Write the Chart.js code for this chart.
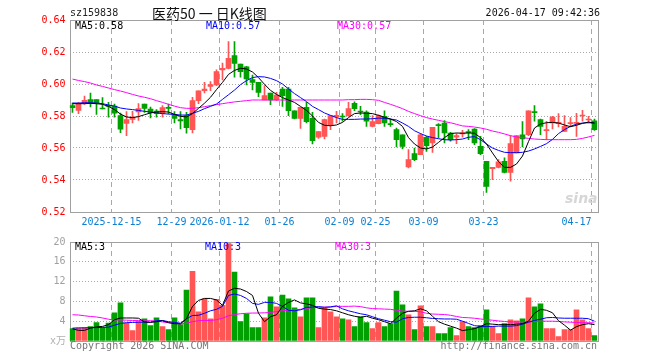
<!DOCTYPE html>
<html lang="zh-CN">
<head>
<meta charset="UTF-8">
<title>医药50 日K线图</title>
<script src="https://cdn.jsdelivr.net/npm/chart.js@4"></script>
<style>
  body { margin: 0; background: #fff; }
  #wrap { position: relative; width: 660px; height: 360px; overflow: hidden;
          font-family: "DejaVu Sans Mono", monospace; font-size: 10px; }
  canvas { position: absolute; left: 0; }
  .t { position: absolute; white-space: nowrap; line-height: 12px; }
</style>
</head>
<body>
<div id="wrap">
  <canvas id="kChart" width="660" height="232" style="top:0"></canvas>
  <canvas id="volChart" width="660" height="128" style="top:232px"></canvas>

  <div class="t" style="left:70px;top:7px;color:#222">sz159838</div>
  <div class="t" style="left:152px;top:5px;font-family:'Noto Sans CJK SC';font-size:14px;line-height:16px;color:#111">医药50 一 日K线图</div>
  <div class="t" style="right:60px;top:7px;color:#111">2026-04-17 09:42:36</div>

  <div class="t" style="left:75px;top:20px;color:#000">MA5:0.58</div>
  <div class="t" style="left:206px;top:20px;color:#0000ff">MA10:0.57</div>
  <div class="t" style="left:337px;top:20px;color:#ff00ff">MA30:0.57</div>
  <div class="t" style="left:565px;top:190px;color:#d6d6d6;font:italic bold 14px 'DejaVu Sans';line-height:16px">sina</div>

  <div class="t" style="left:75px;top:241px;color:#000">MA5:3</div>
  <div class="t" style="left:205px;top:241px;color:#0000ff">MA10:3</div>
  <div class="t" style="left:335px;top:241px;color:#ff00ff">MA30:3</div>

  <div class="t" style="left:50px;top:335px;color:#b0b0b0">x万</div>
  <div class="t" style="left:70px;top:340px;color:#777">Copyright 2026 SINA.COM</div>
  <div class="t" style="right:63px;top:340px;color:#777">http://finance.sina.com.cn</div>
</div>

<script>
// trading days
const dates = [
  '2025-12-04','2025-12-05','2025-12-08','2025-12-09','2025-12-10','2025-12-11','2025-12-12',
  '2025-12-15','2025-12-16','2025-12-17','2025-12-18','2025-12-19','2025-12-22','2025-12-23','2025-12-24','2025-12-25','2025-12-26',
  '2025-12-29','2025-12-30','2025-12-31','2026-01-05','2026-01-06','2026-01-07','2026-01-08','2026-01-09',
  '2026-01-12','2026-01-13','2026-01-14','2026-01-15','2026-01-16','2026-01-19','2026-01-20','2026-01-21','2026-01-22','2026-01-23',
  '2026-01-26','2026-01-27','2026-01-28','2026-01-29','2026-01-30','2026-02-02','2026-02-03','2026-02-04','2026-02-05','2026-02-06',
  '2026-02-09','2026-02-10','2026-02-11','2026-02-12','2026-02-13','2026-02-24',
  '2026-02-25','2026-02-26','2026-02-27','2026-03-02','2026-03-03','2026-03-04','2026-03-05','2026-03-06',
  '2026-03-09','2026-03-10','2026-03-11','2026-03-12','2026-03-13','2026-03-16','2026-03-17','2026-03-18','2026-03-19','2026-03-20',
  '2026-03-23','2026-03-24','2026-03-25','2026-03-26','2026-03-27','2026-03-30','2026-03-31','2026-04-01','2026-04-02','2026-04-03',
  '2026-04-07','2026-04-08','2026-04-09','2026-04-10','2026-04-13','2026-04-14','2026-04-15','2026-04-16','2026-04-17'
];

const tickDates  = ['2025-12-15','2025-12-29','2026-01-12','2026-01-26','2026-02-09','2026-02-25','2026-03-09','2026-03-23','2026-04-17'];
const tickLabels = ['2025-12-15','12-29','2026-01-12','01-26','02-09','02-25','03-09','03-23','04-17'];
const priceTicks = [0.52, 0.54, 0.56, 0.58, 0.60, 0.62, 0.64];
const volTicks   = [0, 4, 8, 12, 16, 20];

const openP = [
  0.5865,0.5835,0.5881,0.5902,0.5902,0.5846,0.5867,0.5862,0.5802,0.5754,
  0.5779,0.5825,0.5875,0.5844,0.5831,0.5815,0.5852,0.5808,0.5777,0.5802,
  0.5715,0.5896,0.5958,0.5985,0.5994,0.6088,0.6098,0.6177,0.6125,0.6108,
  0.6027,0.6010,0.5900,0.5944,0.5900,0.5969,0.5969,0.5833,0.5785,0.5854,
  0.5785,0.5667,0.5673,0.5746,0.5794,0.5798,0.5802,0.5879,0.5829,0.5825,
  0.5735,0.5752,0.5798,0.5752,0.5715,0.5683,0.5481,0.5565,0.5558,0.5667,
  0.5631,0.5746,0.5756,0.5694,0.5667,0.5688,0.5700,0.5719,0.5610,0.5517,
  0.5471,0.5479,0.5517,0.5448,0.5569,0.5683,0.5683,0.5825,0.5777,0.5708,
  0.5756,0.5752,0.5704,0.5752,0.5754,0.5800,0.5775,0.5770
];
const highP = [
  0.5881,0.5885,0.5925,0.5944,0.5902,0.5915,0.5885,0.5875,0.5819,0.5827,
  0.5829,0.5877,0.5875,0.5856,0.5840,0.5865,0.5875,0.5827,0.5827,0.5823,
  0.5917,0.5958,0.6010,0.6015,0.6088,0.6131,0.6265,0.6265,0.6125,0.6110,
  0.6056,0.6010,0.5990,0.5944,0.5948,0.5979,0.5979,0.5833,0.5854,0.5885,
  0.5823,0.5702,0.5781,0.5802,0.5829,0.5815,0.5885,0.5888,0.5860,0.5833,
  0.5802,0.5808,0.5833,0.5781,0.5725,0.5683,0.5590,0.5600,0.5690,0.5673,
  0.5729,0.5752,0.5771,0.5698,0.5690,0.5710,0.5715,0.5721,0.5673,0.5517,
  0.5479,0.5527,0.5538,0.5677,0.5677,0.5765,0.5833,0.5865,0.5781,0.5767,
  0.5798,0.5815,0.5802,0.5790,0.5817,0.5835,0.5798,0.5781
];
const lowP = [
  0.5823,0.5815,0.5873,0.5856,0.5810,0.5844,0.5792,0.5792,0.5696,0.5677,
  0.5756,0.5773,0.5823,0.5788,0.5792,0.5792,0.5813,0.5756,0.5719,0.5692,
  0.5694,0.5877,0.5944,0.5958,0.5990,0.6025,0.6094,0.6042,0.6042,0.5994,
  0.5963,0.5921,0.5900,0.5871,0.5896,0.5860,0.5802,0.5781,0.5723,0.5756,
  0.5625,0.5660,0.5656,0.5715,0.5756,0.5767,0.5798,0.5833,0.5808,0.5735,
  0.5731,0.5750,0.5735,0.5735,0.5606,0.5594,0.5475,0.5521,0.5558,0.5579,
  0.5573,0.5663,0.5631,0.5642,0.5627,0.5667,0.5652,0.5621,0.5558,0.5323,
  0.5402,0.5475,0.5444,0.5392,0.5569,0.5606,0.5677,0.5767,0.5683,0.5652,
  0.5719,0.5731,0.5704,0.5733,0.5673,0.5767,0.5756,0.5710
];
const closeP = [
  0.5852,0.5877,0.5898,0.5885,0.5881,0.5844,0.5860,0.5817,0.5717,0.5777,
  0.5794,0.5846,0.5848,0.5821,0.5815,0.5852,0.5848,0.5785,0.5769,0.5727,
  0.5896,0.5958,0.5969,0.5996,0.6077,0.6098,0.6160,0.6129,0.6077,0.6031,
  0.6010,0.5948,0.5927,0.5900,0.5931,0.5927,0.5833,0.5785,0.5854,0.5765,
  0.5646,0.5702,0.5777,0.5802,0.5804,0.5794,0.5846,0.5846,0.5825,0.5767,
  0.5765,0.5802,0.5756,0.5746,0.5652,0.5610,0.5527,0.5527,0.5683,0.5615,
  0.5729,0.5740,0.5694,0.5652,0.5677,0.5694,0.5696,0.5631,0.5565,0.5360,
  0.5479,0.5513,0.5448,0.5627,0.5677,0.5656,0.5833,0.5821,0.5735,0.5715,
  0.5794,0.5760,0.5735,0.5758,0.5760,0.5802,0.5777,0.5714
];

const ma5 = [
  0.5877,0.5877,0.5877,0.5879,0.5877,0.5873,0.5860,0.5840,0.5812,0.5794,
  0.5790,0.5796,0.5808,0.5819,0.5825,0.5827,0.5825,0.5810,0.5798,0.5794,
  0.5815,0.5848,0.5880,0.5917,0.5965,0.6010,0.6060,0.6085,0.6098,0.6094,
  0.6075,0.6040,0.5998,0.5960,0.5935,0.5915,0.5900,0.5885,0.5860,0.5835,
  0.5800,0.5760,0.5742,0.5739,0.5744,0.5760,0.5790,0.5815,0.5819,0.5817,
  0.5815,0.5804,0.5792,0.5781,0.5765,0.5735,0.5665,0.5625,0.5600,0.5594,
  0.5606,0.5635,0.5665,0.5690,0.5694,0.5692,0.5694,0.5692,0.5665,0.5625,
  0.5569,0.5515,0.5479,0.5479,0.5500,0.5550,0.5640,0.5725,0.5750,0.5758,
  0.5760,0.5756,0.5744,0.5733,0.5742,0.5754,0.5762,0.5756
];
const ma10 = [
  0.5881,0.5881,0.5883,0.5883,0.5881,0.5877,0.5869,0.5862,0.5850,0.5844,
  0.5840,0.5835,0.5829,0.5825,0.5819,0.5815,0.5812,0.5810,0.5806,0.5806,
  0.5817,0.5829,0.5846,0.5860,0.5875,0.5904,0.5933,0.5962,0.5996,0.6021,
  0.6040,0.6046,0.6044,0.6035,0.6021,0.6000,0.5969,0.5940,0.5915,0.5890,
  0.5860,0.5840,0.5819,0.5804,0.5790,0.5779,0.5779,0.5779,0.5781,0.5781,
  0.5783,0.5787,0.5785,0.5781,0.5775,0.5756,0.5735,0.5708,0.5690,0.5675,
  0.5665,0.5658,0.5652,0.5650,0.5652,0.5656,0.5667,0.5671,0.5652,0.5625,
  0.5600,0.5585,0.5573,0.5571,0.5571,0.5573,0.5581,0.5594,0.5610,0.5627,
  0.5654,0.5690,0.5715,0.5735,0.5750,0.5756,0.5758,0.5756
];
const ma30 = [
  0.6031,0.6022,0.6015,0.6006,0.5994,0.5985,0.5975,0.5965,0.5956,0.5946,
  0.5935,0.5925,0.5917,0.5908,0.5896,0.5885,0.5873,0.5862,0.5852,0.5848,
  0.5848,0.5852,0.5858,0.5865,0.5871,0.5877,0.5883,0.5888,0.5892,0.5896,
  0.5900,0.5900,0.5900,0.5900,0.5900,0.5900,0.5900,0.5900,0.5900,0.5900,
  0.5900,0.5900,0.5900,0.5900,0.5900,0.5900,0.5902,0.5902,0.5904,0.5904,
  0.5902,0.5898,0.5885,0.5873,0.5860,0.5846,0.5829,0.5815,0.5802,0.5790,
  0.5781,0.5773,0.5765,0.5758,0.5748,0.5738,0.5735,0.5731,0.5725,0.5717,
  0.5706,0.5698,0.5688,0.5677,0.5669,0.5665,0.5660,0.5656,0.5654,0.5652,
  0.5652,0.5652,0.5652,0.5652,0.5654,0.5660,0.5669,0.5679
];

const volume = [
  2.5,2.6,2.7,2.9,3.7,2.7,3.6,5.7,7.7,3.6,
  2.1,3.9,4.5,3.1,4.7,2.9,2.3,4.7,3.3,10.3,
  14.1,5.9,8.5,4.5,8.4,7.2,19.7,13.9,3.9,5.5,
  2.7,2.7,4.7,8.9,6.9,9.3,8.5,6.7,4.9,8.7,
  8.7,2.7,6.6,5.9,4.9,4.5,4.3,2.9,4.9,3.7,
  2.5,3.7,2.9,3.5,10.1,7.3,5.3,2.3,7.1,2.9,
  2.9,1.5,1.5,2.7,1.1,3.9,2.9,2.7,3.1,6.3,
  2.9,1.5,3.5,4.3,4.1,4.5,8.7,6.9,7.5,2.5,
  2.5,0.9,2.3,2.3,6.3,4.3,2.5,1.1
];
const vma5 = [
  2.45,2.15,2.15,2.6,2.85,2.95,3.3,4.3,4.65,4.65,
  4.65,4.6,3.85,3.75,3.9,4.1,3.7,3.5,3.45,4.5,
  7.0,8.2,8.6,8.6,8.3,7.2,10.1,10.65,10.5,10.0,
  9.2,5.6,3.9,4.9,5.3,7.0,7.8,8.3,7.7,7.5,
  7.2,6.6,6.45,6.35,6.1,5.7,5.3,5.0,4.8,5.0,
  4.6,4.3,3.9,3.5,4.6,5.6,6.0,6.1,6.5,6.1,
  5.0,3.9,3.4,3.0,2.6,2.1,2.3,2.5,2.9,3.5,
  3.4,3.3,3.3,3.3,3.4,3.5,4.0,5.6,6.4,6.2,
  5.7,4.1,3.2,2.2,2.9,3.3,3.5,3.3
];
const vma10 = [
  2.6,2.65,2.65,2.7,2.7,2.75,2.8,3.2,3.55,3.7,
  3.75,3.8,3.8,3.8,4.1,4.15,3.9,3.75,3.6,4.5,
  5.15,5.2,5.6,6.1,6.4,7.0,9.2,9.5,9.2,8.6,
  7.6,7.4,7.8,7.8,7.6,7.0,6.2,6.1,6.3,6.8,
  6.85,6.95,6.8,6.9,7.1,6.5,6.1,5.8,5.5,5.3,
  4.9,4.5,4.2,3.9,3.8,4.5,4.75,4.8,4.8,4.7,
  4.55,4.5,4.45,4.45,4.4,4.0,3.55,3.1,2.95,2.95,
  2.95,3.0,3.0,3.0,3.1,3.4,3.8,4.15,4.4,4.7,
  4.75,4.65,4.6,4.6,4.6,4.6,4.5,4.0
];
const vma30 = [
  5.3,5.25,5.1,4.95,4.85,4.65,4.4,4.25,4.25,4.2,
  4.15,4.15,4.1,4.1,4.05,3.85,3.7,3.6,3.45,3.6,
  3.9,4.1,4.15,4.15,4.3,4.6,5.1,5.35,5.5,5.6,
  5.65,5.65,5.7,5.75,5.95,6.15,6.2,6.3,6.4,6.55,
  6.75,6.8,6.85,6.85,7.0,7.0,7.0,7.05,6.95,6.7,
  6.55,6.5,6.45,6.4,6.2,6.05,6.0,6.0,5.9,5.6,
  5.45,5.4,5.35,5.2,4.95,4.75,4.7,4.6,4.45,4.3,
  4.2,4.05,3.95,3.85,3.85,3.85,3.85,3.95,4.0,4.0,
  4.0,3.95,3.85,3.8,3.75,3.7,3.7,3.65
];

const RED = '#ff5555';
const GREEN = '#00a000';
const MONO = 'DejaVu Sans Mono';

const upColors = openP.map((o, i) => closeP[i] >= o ? RED : GREEN);
const tickIdx = tickDates.map(d => dates.indexOf(d));

// plot frame
const frame = {
  id: 'frame',
  beforeDatasetsDraw(chart) {
    const { ctx, chartArea: a } = chart;
    ctx.save();
    ctx.strokeStyle = '#a0a0a0';
    ctx.lineWidth = 1;
    ctx.strokeRect(Math.round(a.left) + 0.5, Math.round(a.top) + 0.5,
                   Math.round(a.right - a.left), Math.round(a.bottom - a.top));
    ctx.restore();
  }
};

function lineSet(data, color) {
  return { type: 'line', data: data, borderColor: color, borderWidth: 1,
           pointRadius: 0, fill: false, tension: 0, order: 0 };
}

function xScale(showLabels, height) {
  return {
    type: 'category',
    offset: true,
    grid: {
      offset: true,
      drawTicks: false,
      lineWidth: 1,
      color: c => tickIdx.includes(c.index) ? '#a8a8a8' : 'rgba(0,0,0,0)'
    },
    border: { display: false, dash: [5, 4] },
    ticks: {
      display: showLabels,
      autoSkip: false,
      maxRotation: 0,
      minRotation: 0,
      align: 'inner',
      labelOffset: -3,
      padding: 4,
      color: '#0b7fd4',
      font: { family: MONO, size: 10 },
      callback: (v, i) => {
        const k = tickIdx.indexOf(i);
        return k >= 0 ? tickLabels[k] : '';
      }
    },
    afterFit: s => { s.height = height; }
  };
}

new Chart(document.getElementById('kChart'), {
  type: 'bar',
  data: {
    labels: dates,
    datasets: [
      lineSet(ma5, '#000000'),
      lineSet(ma10, '#0000ff'),
      lineSet(ma30, '#ff00ff'),
      { data: lowP.map((l, i) => [l, highP[i]]), backgroundColor: upColors,
        barThickness: 1, grouped: false, order: 2 },
      { data: openP.map((o, i) => [o, closeP[i]]), backgroundColor: upColors,
        barThickness: 5, minBarLength: 1, grouped: false, order: 1 }
    ]
  },
  options: {
    responsive: false,
    animation: false,
    devicePixelRatio: 1,
    layout: { padding: { left: 0, right: 62.5, top: 20, bottom: 0 } },
    plugins: { legend: { display: false }, tooltip: { enabled: false } },
    scales: {
      x: xScale(true, 20),
      y: {
        min: priceTicks[0],
        max: priceTicks[priceTicks.length - 1],
        afterBuildTicks: s => { s.ticks = priceTicks.map(v => ({ value: v })); },
        grid: {
          drawTicks: false,
          color: c => (c.index === 0 || c.index === priceTicks.length - 1) ? 'rgba(0,0,0,0)' : '#a8a8a8'
        },
        border: { display: false, dash: [1, 2] },
        ticks: {
          padding: 4,
          color: '#ff0000',
          font: { family: MONO, size: 10 },
          callback: v => v.toFixed(2)
        },
        afterFit: s => { s.width = 69.5; }
      }
    }
  },
  plugins: [frame]
});

new Chart(document.getElementById('volChart'), {
  type: 'bar',
  data: {
    labels: dates,
    datasets: [
      lineSet(vma5, '#000000'),
      lineSet(vma10, '#0000ff'),
      lineSet(vma30, '#ff00ff'),
      { data: volume, backgroundColor: upColors, barThickness: 5, grouped: false, order: 1 }
    ]
  },
  options: {
    responsive: false,
    animation: false,
    devicePixelRatio: 1,
    layout: { padding: { left: 0, right: 62.5, top: 9, bottom: 0 } },
    plugins: { legend: { display: false }, tooltip: { enabled: false } },
    scales: {
      x: xScale(false, 19),
      y: {
        min: volTicks[0],
        max: volTicks[volTicks.length - 1],
        afterBuildTicks: s => { s.ticks = volTicks.map(v => ({ value: v })); },
        grid: {
          drawTicks: false,
          color: c => (c.index === 0 || c.index === volTicks.length - 1) ? 'rgba(0,0,0,0)' : '#a8a8a8'
        },
        border: { display: false, dash: [1, 2] },
        ticks: {
          padding: 4,
          color: '#a0a0a0',
          font: { family: MONO, size: 10 },
          callback: v => v === 0 ? '' : String(v)
        },
        afterFit: s => { s.width = 69.5; }
      }
    }
  },
  plugins: [frame]
});
</script>
</body>
</html>
